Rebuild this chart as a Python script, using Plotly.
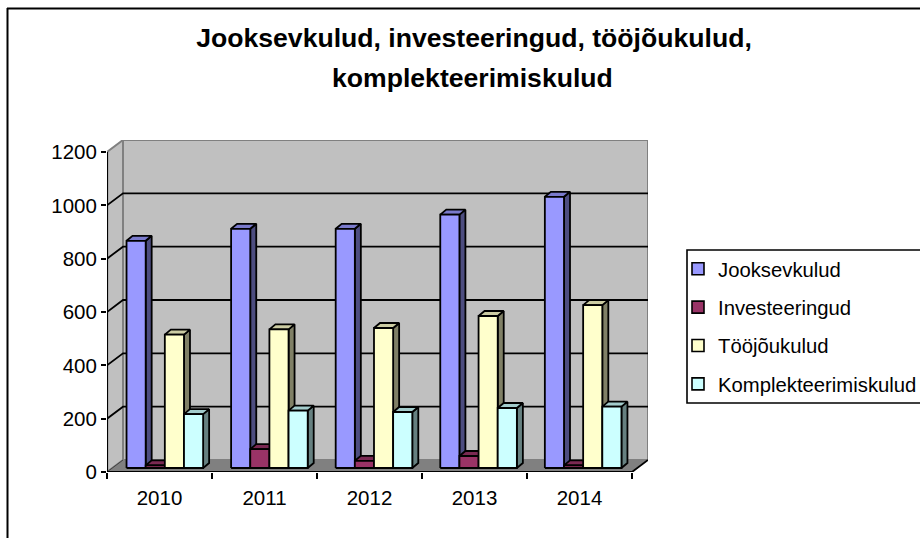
import plotly.graph_objects as go

years = ["2010", "2011", "2012", "2013", "2014"]
series_names = ["Jooksevkulud", "Investeeringud", "Tööjõukulud", "Komplekteerimiskulud"]
jooksevkulud = [852, 897, 897, 950, 1017]
investeeringud = [10, 71, 27, 45, 10]
toojoukulud = [500, 520, 525, 570, 611]
komplekteerimiskulud = [202, 215, 210, 225, 230]
series_values = [jooksevkulud, investeeringud, toojoukulud, komplekteerimiskulud]
y_ticks = [0, 200, 400, 600, 800, 1000, 1200]
title_lines = ["Jooksevkulud, investeeringud, tööjõukulud,", "komplekteerimiskulud"]

front_colors = ["#9999FF", "#993366", "#FFFFCC", "#CCFFFF"]
side_colors = ["#4D4D80", "#4D1A33", "#808066", "#668080"]
top_colors = ["#7A7ACC", "#7A2952", "#CCCCA3", "#A3CCCC"]

# plot area in pixels
L, R, T, B = 107, 648, 140, 472
W, H = 920, 538
PX_X = 105.0
PX_Y = 320.0 / 1200
DX, DY = 16 / PX_X, 12 / PX_Y           # wall depth
BAR_W = 19.15 / PX_X
BAR_START = 0.186
BAR_DX, BAR_DY = 6 / PX_X, 5 / PX_Y     # bar depth
BASE = 4 / PX_Y                         # bar floor offset
N = len(years)
TOP = y_ticks[-1]


def px(x):
    return (x - L) / (R - L)


def py(y):
    return (B - y) / (B - T)


fig = go.Figure()


def poly(xs, ys, fill, line="black", lw=1.8):
    fig.add_trace(go.Scatter(
        x=xs, y=ys, mode="lines", fill="toself" if fill else None, fillcolor=fill,
        line=dict(color=line, width=lw, shape="linear"), showlegend=False,
        hoverinfo="skip", cliponaxis=False))


# walls
poly([0, DX, DX, 0, 0], [0, DY, TOP + DY, TOP, 0], "#C0C0C0", "#808080", 2)
poly([DX, N + DX, N + DX, DX, DX], [DY, DY, TOP + DY, TOP + DY, DY], "#C0C0C0", "#808080", 2)
poly([0, N, N + DX, DX, 0], [0, 0, DY, DY, 0], "#808080", "#808080", 1)

# gridlines
for v in y_ticks[1:-1]:
    poly([0, DX, N + DX], [v, v + DY, v + DY], None, "black", 1.8)

# floor right edge and left edge
poly([N, N + DX], [0, DY], None, "black", 1.8)
poly([0, DX], [0, DY], None, "#404040", 1)

# bars, drawn left to right
for i in range(N):
    for s, values in enumerate(series_values):
        x0 = i + BAR_START + s * BAR_W - (i * 0.004)
        x1 = x0 + BAR_W
        y1 = BASE + values[i]
        poly([x1, x1 + BAR_DX, x1 + BAR_DX, x1, x1],
             [BASE, BASE + BAR_DY, y1 + BAR_DY, y1, BASE], side_colors[s])
        poly([x0, x1, x1 + BAR_DX, x0 + BAR_DX, x0],
             [y1, y1, y1 + BAR_DY, y1 + BAR_DY, y1], top_colors[s])
        poly([x0, x1, x1, x0, x0], [BASE, BASE, y1, y1, BASE], front_colors[s])

# axis lines
poly([0, 0], [0, TOP], None, "black", 2.2)
poly([0, N], [0, 0], None, "black", 2.2)

# legend entries
for s, name in enumerate(series_names):
    fig.add_trace(go.Scatter(
        x=[None], y=[None], mode="markers", name=name, legendgroup=name,
        marker=dict(symbol="square", size=12, color=front_colors[s],
                    line=dict(color="black", width=1.6))))

FONT = "Liberation Sans, Arial, sans-serif"
fig.update_layout(
    width=W, height=H, autosize=False,
    margin=dict(l=L, r=W - R, t=T, b=H - B, pad=0, autoexpand=False),
    paper_bgcolor="white", plot_bgcolor="white",
    font=dict(family=FONT, size=20.5, color="black"),
    title=dict(text="<b>" + title_lines[0] + "</b>",
               x=474 / W, xanchor="center", y=1 - 38 / H, yanchor="middle",
               font=dict(family=FONT, size=26.6, color="black")),
    annotations=[dict(text="<b>" + title_lines[1] + "</b>", xref="paper", yref="paper",
                      x=px(472.5), y=py(78), xanchor="center", yanchor="middle", showarrow=False,
                      font=dict(family=FONT, size=26.6, color="black"))],
    xaxis=dict(range=[0, (R - L) / PX_X], tickmode="array",
               tickvals=[i + 0.5 for i in range(N)], ticktext=years,
               ticks="", ticklen=0, showgrid=False, zeroline=False, showline=False,
               tickfont=dict(size=20.5), ticklabelstandoff=11,
               minor=dict(tickmode="array", tickvals=list(range(N + 1)), ticks="outside",
                          ticklen=6, tickwidth=2, tickcolor="black", showgrid=False)),
    yaxis=dict(range=[0, (B - T) / PX_Y], tickmode="array", tickvals=y_ticks,
               ticks="outside", ticklen=5, tickwidth=2, tickcolor="black",
               showgrid=False, zeroline=False, showline=False,
               tickfont=dict(size=20.5)),
    legend=dict(x=px(678), xanchor="left", y=py(249), yanchor="top",
                bgcolor="rgba(0,0,0,0)", borderwidth=0, tracegroupgap=9,
                font=dict(size=20.3, family=FONT), traceorder="grouped"),
    shapes=[
        dict(type="rect", xref="paper", yref="paper", x0=px(687), x1=px(925), y0=py(250), y1=py(403),
             line=dict(color="black", width=1.6), fillcolor="rgba(0,0,0,0)", layer="below"),
        dict(type="line", xref="paper", yref="paper", x0=px(7.5), x1=px(7.5), y0=py(8), y1=py(540),
             line=dict(color="black", width=2)),
        dict(type="line", xref="paper", yref="paper", x0=px(7), x1=px(922), y0=py(8.5), y1=py(8.5),
             line=dict(color="black", width=2)),
    ],
)

fig.write_html("out.html", config={"displayModeBar": False},
               post_script="document.body.style.margin='0';")
